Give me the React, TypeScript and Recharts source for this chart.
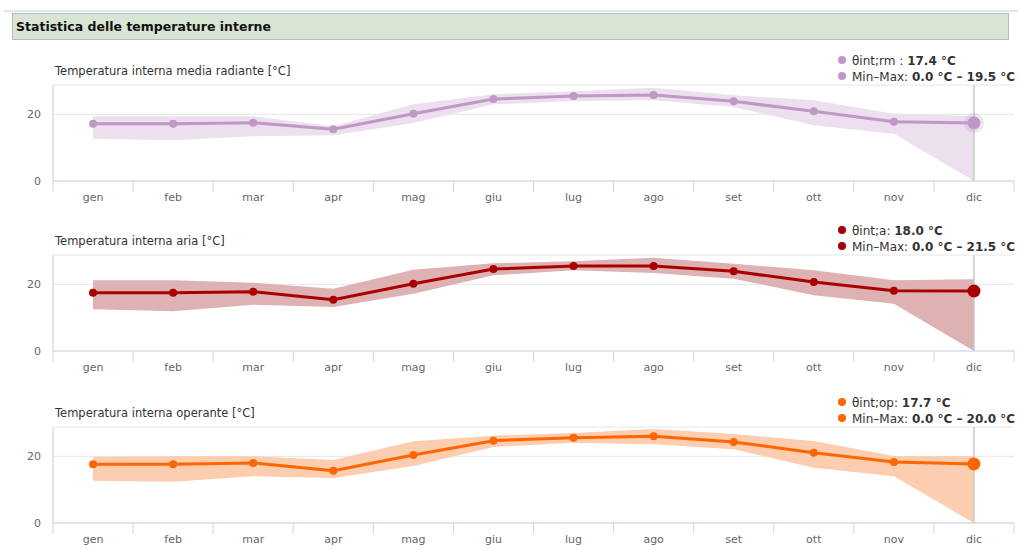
import {
  Area,
  CartesianGrid,
  ComposedChart,
  Line,
  ReferenceLine,
  XAxis,
  YAxis,
} from "recharts";

const MONTHS = ["gen", "feb", "mar", "apr", "mag", "giu", "lug", "ago", "set", "ott", "nov", "dic"];

// Temperatura interna media radiante
const RM_MEAN = [17.2, 17.2, 17.5, 15.5, 20.2, 24.6, 25.5, 25.8, 23.9, 20.9, 17.8, 17.4];
const RM_MIN = [12.7, 12.2, 13.4, 13.7, 17.4, 23.0, 24.0, 24.2, 22.2, 16.7, 14.2, 0.0];
const RM_MAX = [19.4, 19.4, 19.4, 16.4, 23.0, 26.0, 26.9, 28.0, 25.7, 24.2, 20.2, 19.5];

// Temperatura interna aria
const AIR_MEAN = [17.5, 17.5, 17.8, 15.4, 20.2, 24.6, 25.5, 25.5, 23.9, 20.7, 18.1, 18.0];
const AIR_MIN = [12.5, 11.9, 13.9, 13.2, 17.2, 22.7, 24.2, 23.4, 21.7, 16.7, 14.2, 0.0];
const AIR_MAX = [21.2, 21.2, 20.5, 18.7, 24.4, 26.3, 26.9, 28.0, 26.2, 24.2, 21.2, 21.5];

// Temperatura interna operante
const OP_MEAN = [17.6, 17.6, 18.0, 15.7, 20.4, 24.7, 25.6, 26.0, 24.3, 21.1, 18.3, 17.7];
const OP_MIN = [12.7, 12.4, 14.0, 13.5, 17.1, 22.8, 24.1, 23.6, 22.1, 16.6, 14.0, 0.0];
const OP_MAX = [19.9, 20.0, 20.0, 18.9, 24.5, 26.2, 27.0, 28.2, 26.7, 24.6, 20.1, 20.0];

const Y_TICKS = [0, 20];

const FONT = "'DejaVu Sans', Verdana, sans-serif";

interface PanelProps {
  top: number;
  title: string;
  label: string;
  color: string;
  band: string;
  halo: boolean;
  mean: number[];
  min: number[];
  max: number[];
}

function MonthTick(props: any) {
  const { x, y, payload, index } = props;
  const half = 961 / 24;
  return (
    <g>
      <line x1={x - half} y1={y} x2={x - half} y2={y + 11} stroke="#ccd6eb" />
      {index === MONTHS.length - 1 && (
        <line x1={x + half} y1={y} x2={x + half} y2={y + 11} stroke="#ccd6eb" />
      )}
      <text x={x} y={y + 20} textAnchor="middle" fill="#666" fontSize={11} fontFamily={FONT}>
        {payload.value}
      </text>
    </g>
  );
}

function Dot({ color }: { color: string }) {
  return (
    <span
      style={{
        display: "inline-block",
        width: 8,
        height: 8,
        borderRadius: 4,
        background: color,
        marginRight: 6,
        verticalAlign: "1px",
      }}
    />
  );
}

function Panel({ top, title, label, color, band, halo, mean, min, max }: PanelProps) {
  const data = MONTHS.map((m, i) => ({ month: m, mean: mean[i], range: [min[i], max[i]] }));
  const last = MONTHS.length - 1;

  const renderDot = (p: any) => {
    const { cx, cy, index } = p;
    if (index === last) {
      return (
        <g key={`d-${index}`}>
          {halo && <circle cx={cx} cy={cy} r={10} fill={color} fillOpacity={0.25} />}
          <circle cx={cx} cy={cy} r={6.5} fill={color} />
        </g>
      );
    }
    return <circle key={`d-${index}`} cx={cx} cy={cy} r={4} fill={color} />;
  };

  return (
    <div style={{ position: "absolute", left: 0, top, width: 1018, height: 170 }}>
      <div
        style={{
          position: "absolute",
          left: 55,
          top: 19,
          fontSize: 11.5,
          color: "#333",
          fontFamily: FONT,
          whiteSpace: "nowrap",
        }}
      >
        {title}
      </div>
      <div
        style={{
          position: "absolute",
          left: 838,
          top: 8,
          fontSize: 12,
          color: "#333",
          fontFamily: FONT,
          lineHeight: "16px",
          whiteSpace: "nowrap",
          zIndex: 2,
        }}
      >
        <div>
          <Dot color={color} />
          {label}: <b>{mean[last].toFixed(1)} °C</b>
        </div>
        <div>
          <Dot color={color} />
          Min–Max: <b>{min[last].toFixed(1)} °C – {max[last].toFixed(1)} °C</b>
        </div>
      </div>
      <ComposedChart
        width={1018}
        height={170}
        data={data}
        margin={{ top: 40, right: 4, left: 0, bottom: 4 }}
      >
        <CartesianGrid vertical={false} stroke="#e6e6e6" />
        <XAxis
          dataKey="month"
          scale="band"
          tickLine={false}
          tickSize={0}
          tickMargin={0}
          axisLine={{ stroke: "#ccd6eb" }}
          interval={0}
          height={30}
          tick={<MonthTick />}
        />
        <YAxis
          domain={[0, 28.8]}
          ticks={Y_TICKS}
          width={53}
          tickLine={false}
          tickSize={0}
          tickMargin={12}
          axisLine={{ stroke: "#ccc" }}
          tick={{ fontSize: 11, fill: "#666", fontFamily: FONT }}
        />
        <ReferenceLine x="dic" stroke="#c8c8c8" strokeWidth={1.5} />
        <Area
          dataKey="range"
          type="linear"
          stroke="none"
          fill={band}
          fillOpacity={1}
          isAnimationActive={false}
          activeDot={false}
        />
        <Line
          dataKey="mean"
          type="linear"
          stroke={color}
          strokeWidth={3}
          dot={renderDot}
          activeDot={false}
          isAnimationActive={false}
        />
      </ComposedChart>
    </div>
  );
}

export default function App() {
  return (
    <div
      style={{
        position: "fixed",
        left: 0,
        top: 0,
        width: 1018,
        height: 550,
        background: "#fff",
        overflow: "hidden",
        fontFamily: FONT,
      }}
    >
      <div style={{ position: "absolute", left: 4, top: 10, width: 1014, height: 2, background: "#e4e6ea" }} />
      <div
        style={{
          position: "absolute",
          left: 12,
          top: 13,
          width: 992,
          height: 25,
          background: "#d9e5d3",
          border: "1px solid #b5beb2",
          fontSize: 12.5,
          fontWeight: "bold",
          color: "#111",
          lineHeight: "25px",
          paddingLeft: 3,
          boxSizing: "content-box",
          whiteSpace: "nowrap",
        }}
      >
        Statistica delle temperature interne
      </div>
      <Panel
        top={45}
        title="Temperatura interna media radiante [°C]"
        label="θint;rm "
        color="#c197c7"
        band="#ecdfee"
        halo={true}
        mean={RM_MEAN}
        min={RM_MIN}
        max={RM_MAX}
      />
      <Panel
        top={215}
        title="Temperatura interna aria [°C]"
        label="θint;a"
        color="#a80000"
        band="#deb1b2"
        halo={false}
        mean={AIR_MEAN}
        min={AIR_MIN}
        max={AIR_MAX}
      />
      <Panel
        top={387}
        title="Temperatura interna operante [°C]"
        label="θint;op"
        color="#ff6600"
        band="#fccdae"
        halo={false}
        mean={OP_MEAN}
        min={OP_MIN}
        max={OP_MAX}
      />
    </div>
  );
}
